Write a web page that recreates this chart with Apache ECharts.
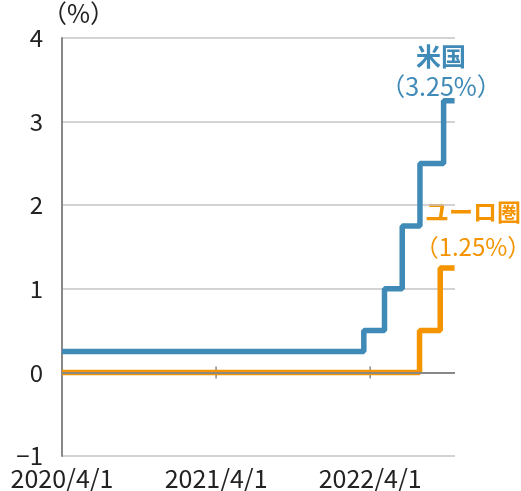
<!DOCTYPE html>
<html>
<head>
<meta charset="utf-8">
<script src="https://cdn.jsdelivr.net/npm/echarts@6/dist/echarts.min.js"></script>
<style>html,body{margin:0;padding:0;background:#fff;}#c{width:521px;height:491px;}</style>
</head>
<body>
<div id="c"></div>
<script>
// Data
const startDate = '2020-04-01';
const endDay = 931;
const xTickLabels = ['2020/4/1', '2021/4/1', '2022/4/1'];
const xTickDays = [365, 730];
const usName = '米国';
const usDates = ['2020-04-01', '2022-03-17', '2022-05-05', '2022-06-16', '2022-07-28', '2022-09-22', '2022-10-18'];
const usRates = [0.25, 0.5, 1.0, 1.75, 2.5, 3.25, 3.25];
const euName = 'ユーロ圏';
const euDates = ['2020-04-01', '2022-07-27', '2022-09-14', '2022-10-18'];
const euRates = [0, 0.5, 1.25, 1.25];

const FONT = '"Noto Sans CJK JP", "Noto Sans", sans-serif';
const BLUE = '#408ab8';
const ORANGE = '#f39400';
const AXIS = '#888';
const TEXT = '#222';

function dayIndex(s) {
  const [y, m, d] = s.split('-').map(Number);
  const [y0, m0, d0] = startDate.split('-').map(Number);
  return Math.round((Date.UTC(y, m - 1, d) - Date.UTC(y0, m0 - 1, d0)) / 86400000);
}
const usData = usDates.map((d, i) => [dayIndex(d), usRates[i]]);
const euData = euDates.map((d, i) => [dayIndex(d), euRates[i]]);

const chart = echarts.init(document.getElementById('c'), null, {renderer: 'canvas'});
chart.setOption({
  animation: false,
  backgroundColor: '#fff',
  grid: {left: 62, right: 66, top: 38, bottom: 34, containLabel: false},
  xAxis: {
    type: 'value', min: 0, max: endDay, interval: 365, position: 'bottom',
    axisLine: {show: false, onZero: false},
    axisTick: {show: false},
    axisLabel: {
      show: true,
      customValues: [0, 365, 730],
      formatter: v => xTickLabels[Math.round(v / 365)] || '',
      margin: 10, fontSize: 25, color: TEXT, fontFamily: FONT
    },
    splitLine: {show: false}
  },
  yAxis: {
    type: 'value', min: -1, max: 4, interval: 1,
    name: '（%）', nameLocation: 'end', nameGap: -6,
    nameTextStyle: {fontSize: 25, color: TEXT, fontFamily: FONT, align: 'left', padding: [0, 0, 0, -20]},
    axisLine: {show: true, onZero: false, lineStyle: {color: AXIS, width: 2}},
    axisTick: {show: false},
    axisLabel: {
      formatter: v => (v < 0 ? '−' + Math.abs(v) : String(v)),
      margin: 19, fontSize: 24, color: TEXT, fontFamily: FONT
    },
    splitLine: {show: true, lineStyle: {color: '#c4c4c4', width: 1.5}}
  },
  series: [{
    // zero line with tick marks crossing it
    type: 'custom', silent: true, z: 1,
    data: xTickDays.map(d => [d, 0]),
    renderItem: (params, api) => {
      const p = api.coord([api.value(0), api.value(1)]);
      return {type: 'line', shape: {x1: p[0], y1: p[1] - 6, x2: p[0], y2: p[1] + 6}, style: {stroke: AXIS, lineWidth: 1.5}};
    },
    markLine: {
      silent: true, symbol: 'none', label: {show: false},
      lineStyle: {color: AXIS, width: 2, type: 'solid'},
      data: [{yAxis: 0}]
    }
  }, {
    name: usName, type: 'line', step: 'end', data: usData, showSymbol: false, z: 3,
    lineStyle: {color: BLUE, width: 5.5}, itemStyle: {color: BLUE}
  }, {
    name: euName, type: 'line', step: 'end', data: euData, showSymbol: false, z: 3,
    lineStyle: {color: ORANGE, width: 5.5}, itemStyle: {color: ORANGE}
  }],
  graphic: [
    {type: 'text', x: 441, y: 56, style: {text: usName, fill: BLUE, font: 'bold 25px ' + FONT, textAlign: 'center', textVerticalAlign: 'middle'}},
    {type: 'text', x: 441, y: 86, style: {text: '（' + usRates[usRates.length - 1].toFixed(2) + '%）', fill: BLUE, font: '25px ' + FONT, textAlign: 'center', textVerticalAlign: 'middle'}},
    {type: 'text', x: 473, y: 212, style: {text: euName, fill: ORANGE, font: 'bold 24px ' + FONT, textAlign: 'center', textVerticalAlign: 'middle'}},
    {type: 'text', x: 473, y: 247, style: {text: '（' + euRates[euRates.length - 1].toFixed(2) + '%）', fill: ORANGE, font: '24px ' + FONT, textAlign: 'center', textVerticalAlign: 'middle'}}
  ]
});
</script>
</body>
</html>
